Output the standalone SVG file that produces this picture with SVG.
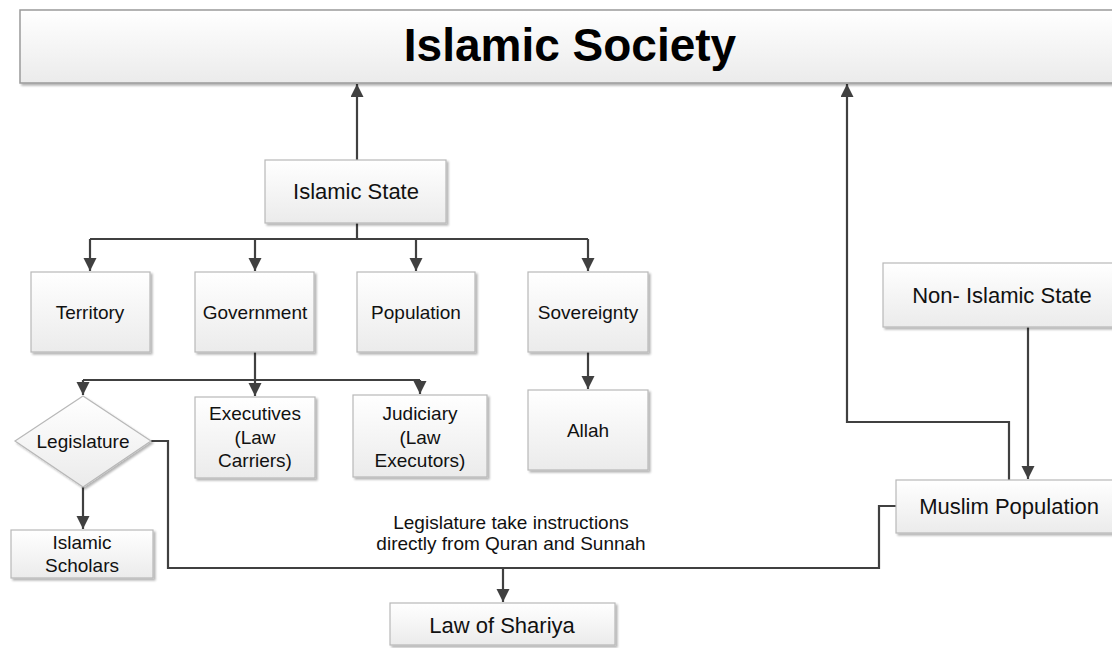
<svg xmlns="http://www.w3.org/2000/svg" width="1112" height="648" viewBox="0 0 1112 648">
<style>
.box{fill:url(#g);stroke:#b8b8b8;stroke-width:1.2;filter:url(#sh)}
.t{font-family:"Liberation Sans",Arial,sans-serif;font-size:19px;fill:#111;text-anchor:middle}
.tl{font-size:22px}
.c{fill:none;stroke:#404040;stroke-width:2.2}
.a{marker-end:url(#arr)}
</style>
<defs>
<linearGradient id="g" x1="0" y1="0" x2="0" y2="1">
<stop offset="0" stop-color="#ffffff"/>
<stop offset="1" stop-color="#ebebeb"/>
</linearGradient>
<filter id="sh" x="-10%" y="-10%" width="130%" height="140%">
<feGaussianBlur in="SourceAlpha" stdDeviation="1.2"/>
<feOffset dx="1.5" dy="2" result="b"/>
<feComponentTransfer><feFuncA type="linear" slope="0.3"/></feComponentTransfer>
<feMerge><feMergeNode/><feMergeNode in="SourceGraphic"/></feMerge>
</filter>
<marker id="arr" markerUnits="userSpaceOnUse" markerWidth="14" markerHeight="14" refX="13" refY="6.5" orient="auto">
<path d="M0,0 L13,6.5 L0,13 z" fill="#404040"/>
</marker>
</defs>
<rect width="1112" height="648" fill="#ffffff"/>

<g id="connectors">
<path class="c a" d="M357,160 V84"/>
<path class="c" d="M357,223 V239 M90,239 H588"/>
<path class="c a" d="M90,239 V271"/>
<path class="c a" d="M255,239 V271"/>
<path class="c a" d="M416,239 V271"/>
<path class="c a" d="M588,239 V271"/>
<path class="c" d="M255,352 V380 M83,380 H420"/>
<path class="c a" d="M83,380 V395"/>
<path class="c a" d="M255,380 V396"/>
<path class="c a" d="M420,380 V394"/>
<path class="c a" d="M588,352 V389"/>
<path class="c a" d="M83,487 V529"/>
<path class="c" d="M151,441 H168 V568 H879 V506 H896"/>
<path class="c a" d="M503,568 V602"/>
<path class="c a" d="M1009,480 V422 H847 V84"/>
<path class="c a" d="M1028,327 V479"/>
</g>

<g id="islamic-society">
<rect x="20" y="10" width="1100" height="73" fill="url(#g)" stroke="#9a9a9a" stroke-width="1.5" filter="url(#sh)"/>
<text x="570" y="61" font-family="Liberation Sans,Arial,sans-serif" font-size="46" font-weight="bold" text-anchor="middle" fill="#000">Islamic Society</text>
</g>
<g id="islamic-state">
<rect class="box" x="265" y="160" width="181" height="63"/>
<text class="t tl" x="356" y="199">Islamic State</text>
</g>
<g id="territory">
<rect class="box" x="31" y="272" width="119" height="80"/>
<text class="t" x="90" y="319">Territory</text>
</g>
<g id="government">
<rect class="box" x="195" y="272" width="119" height="80"/>
<text class="t" x="255" y="319">Government</text>
</g>
<g id="population">
<rect class="box" x="357" y="272" width="118" height="80"/>
<text class="t" x="416" y="319">Population</text>
</g>
<g id="sovereignty">
<rect class="box" x="528" y="272" width="120" height="80"/>
<text class="t" x="588" y="319">Sovereignty</text>
</g>
<g id="allah">
<rect class="box" x="528" y="390" width="120" height="80"/>
<text class="t" x="588" y="437">Allah</text>
</g>
<g id="executives">
<rect class="box" x="195" y="397" width="120" height="81"/>
<text class="t" x="255" y="420">Executives</text>
<text class="t" x="255" y="444">(Law</text>
<text class="t" x="255" y="467">Carriers)</text>
</g>
<g id="judiciary">
<rect class="box" x="353" y="395" width="134" height="82"/>
<text class="t" x="420" y="420">Judiciary</text>
<text class="t" x="420" y="444">(Law</text>
<text class="t" x="420" y="467">Executors)</text>
</g>
<g id="legislature">
<polygon class="box" points="15,441 83,396 151,441 83,487"/>
<text class="t" x="83" y="448">Legislature</text>
</g>
<g id="islamic-scholars">
<rect class="box" x="11" y="530" width="142" height="48"/>
<text class="t" x="82" y="549">Islamic</text>
<text class="t" x="82" y="572">Scholars</text>
</g>
<g id="law-of-shariya">
<rect class="box" x="390" y="603" width="225" height="42"/>
<text class="t tl" x="502" y="633">Law of Shariya</text>
</g>
<g id="non-islamic-state">
<rect class="box" x="883" y="263" width="240" height="64"/>
<text class="t tl" x="1002" y="303">Non- Islamic State</text>
</g>
<g id="muslim-population">
<rect class="box" x="896" y="480" width="230" height="53"/>
<text class="t tl" x="1009" y="514">Muslim Population</text>
</g>
<g id="caption">
<text class="t" x="511" y="529" font-size="17.5">Legislature take instructions</text>
<text class="t" x="511" y="550" font-size="17.5">directly from Quran and Sunnah</text>
</g>
</svg>
